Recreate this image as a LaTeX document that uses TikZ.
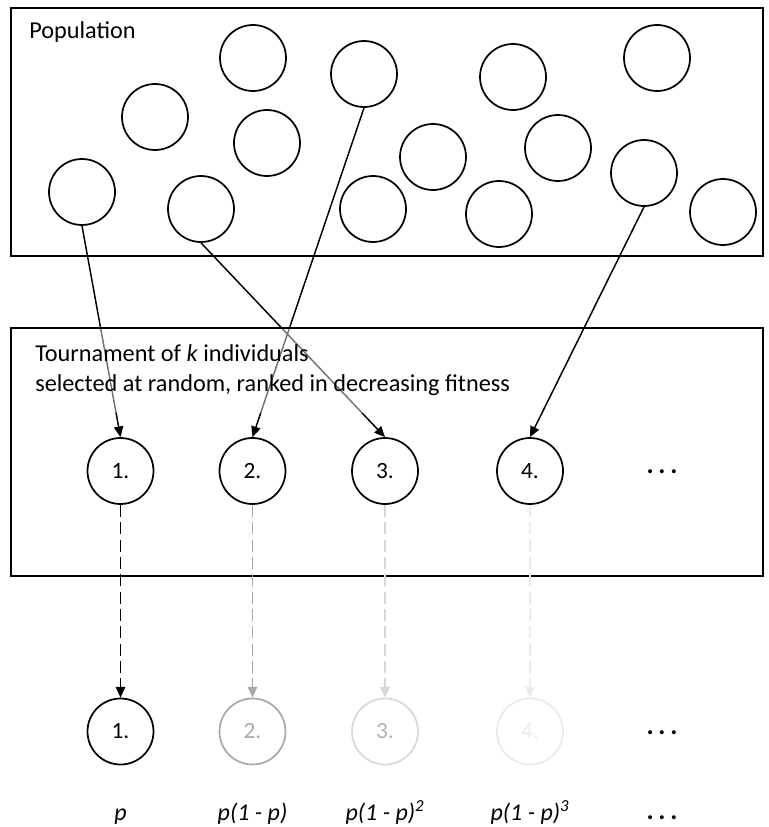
\documentclass[tikz,border=0pt]{standalone}
\usepackage{fontspec}
\setmainfont{Carlito}
\usetikzlibrary{arrows.meta}
\definecolor{fadeone}{RGB}{168,168,168}
\definecolor{fadetwo}{RGB}{216,216,216}
\definecolor{fadethree}{RGB}{234,234,234}
\definecolor{fadetext}{RGB}{178,178,178}

\newcommand{\spaceddots}{\textbf{.\hspace{3.6pt}.\hspace{3.6pt}.}}

\begin{document}
\begin{tikzpicture}[
  x=0.75pt, y=-0.75pt,
  boxframe/.style={draw=black, line width=1.8pt},
  indiv/.style={draw=black, circle, line width=1.3pt, minimum size=49.5pt, inner sep=0pt, font=\fontsize{17.5}{20}\selectfont},
  pick/.style={-{Triangle[length=8pt,width=7pt]}, line width=1.1pt},
  pass/.style={-{Triangle[length=8pt,width=7pt]}, line width=1.1pt, dash pattern=on 9pt off 4pt},
  boxtext/.style={font=\fontsize{18.2}{22.5}\selectfont},
  dotrow/.style={anchor=base, inner sep=0pt, font=\fontsize{20}{22}\selectfont},
  prob/.style={anchor=base, font=\fontsize{18}{20}\selectfont\itshape}
]
  \useasboundingbox (0,0) rectangle (768,827);

  % Population
  \draw[boxframe] (11,8) rectangle (763,256);
  \node[boxtext, anchor=base west, inner sep=0pt] (poplabel) at (29,39) {Population};

  \node[indiv] (ind1)  at (253,58)  {};
  \node[indiv] (ind2)  at (364,74)  {};
  \node[indiv] (ind3)  at (513,77)  {};
  \node[indiv] (ind4)  at (657,58)  {};
  \node[indiv] (ind5)  at (155,117) {};
  \node[indiv] (ind6)  at (267,143) {};
  \node[indiv] (ind7)  at (433,157) {};
  \node[indiv] (ind8)  at (558,148) {};
  \node[indiv] (ind9)  at (644,173) {};
  \node[indiv] (ind10) at (82,192)  {};
  \node[indiv] (ind11) at (201,209) {};
  \node[indiv] (ind12) at (373,209) {};
  \node[indiv] (ind13) at (499,214) {};
  \node[indiv] (ind14) at (723,212) {};

  % Tournament
  \node[indiv] (t1) at (120.5,471) {1.};
  \node[indiv] (t2) at (252.5,471) {2.};
  \node[indiv] (t3) at (385,471)   {3.};
  \node[indiv] (t4) at (530,471)   {4.};
  \node[dotrow] (tdots) at (662,473) {\spaceddots};

  \draw[pick] (ind10.south) -- (t1.north);
  \draw[pick] (ind2.south)  -- (t2.north);
  \draw[pick] (ind11.south) -- (t3.north);
  \draw[pick] (ind9.south)  -- (t4.north);

  \node[boxtext, anchor=west, align=left, inner xsep=12pt, minimum height=63.75pt,
        fill=white, fill opacity=0.45, text opacity=1] (tourlabel) at (19,370.5)
    {Tournament of \textit{k} individuals\\selected at random, ranked in decreasing fitness};
  \draw[boxframe] (11,328) rectangle (763,576);

  % Selection
  \node[indiv] (s1) at (120.5,731.5) {1.};
  \node[indiv, draw=fadeone, text=fadeone] (s2) at (252.5,731.5) {2.};
  \node[indiv, draw=fadetwo, text=fadetext] (s3) at (385,731.5) {3.};
  \node[indiv, draw=fadethree, text=fadethree] (s4) at (530,731.5) {4.};
  \node[dotrow] (sdots) at (662,734) {\spaceddots};

  \draw[pass] (t1.south) -- (s1.north);
  \draw[pass, draw=fadeone, fill=fadeone] (t2.south) -- (s2.north);
  \draw[pass, draw=fadetwo, fill=fadetwo] (t3.south) -- (s3.north);
  \draw[pass, draw=fadethree, fill=fadethree] (t4.south) -- (s4.north);

  % Probabilities
  \node[prob] (q1) at (120.5,820) {p};
  \node[prob] (q2) at (252.5,820) {p(1 - p)};
  \node[prob] (q3) at (385,820)   {p(1 - p)\textsuperscript{2}};
  \node[prob] (q4) at (530,820)   {p(1 - p)\textsuperscript{3}};
  \node[dotrow] (qdots) at (662,819) {\spaceddots};
\end{tikzpicture}
\end{document}
